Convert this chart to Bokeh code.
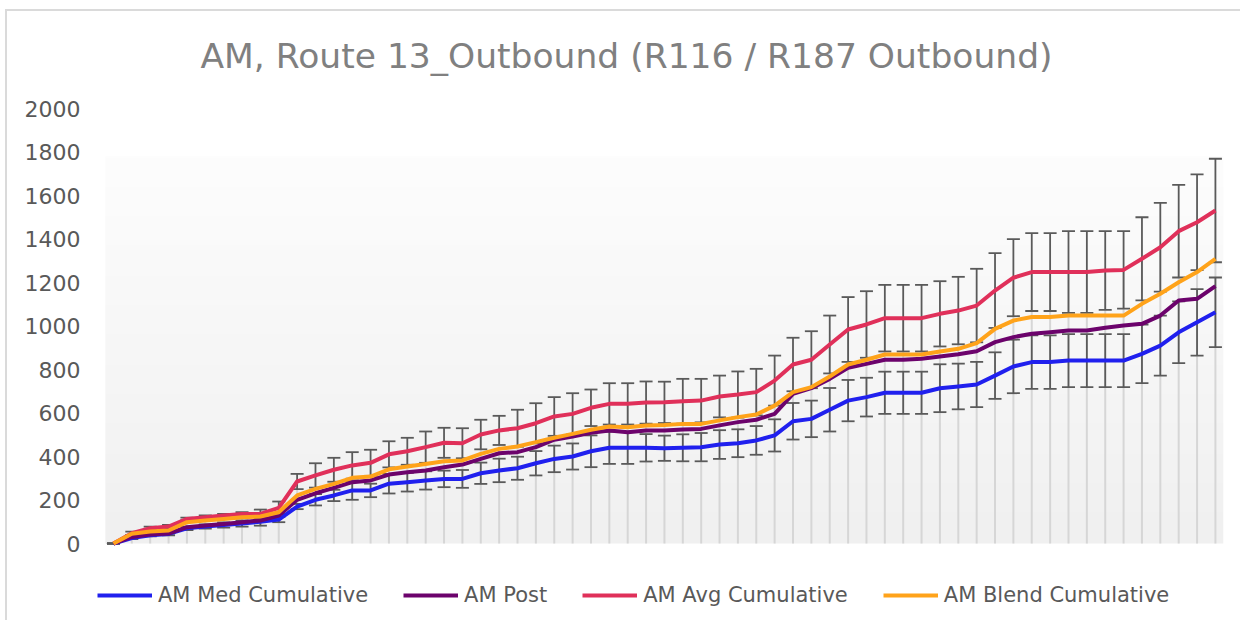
import numpy as np
from bokeh.plotting import figure
from bokeh.models import (ColumnDataSource, Range1d, Whisker, TeeHead, Legend,
                          LegendItem, FixedTicker)
from bokeh.embed import file_html
from bokeh.resources import INLINE

# ---------------- data ----------------
stops = list(range(1, 62))  # 61 stop categories (no labels shown on the axis)

med_cum = [0, 25, 38, 44, 70, 78, 85, 92, 100, 110,
           170, 201, 221, 244, 244, 275, 282, 290, 297, 297,
           323, 336, 346, 369, 389, 400, 424, 440, 440, 440,
           438, 440, 443, 455, 461, 474, 497, 562, 573, 615,
           657, 673, 693, 693, 693, 714, 722, 731, 772, 814,
           834, 834, 841, 841, 841, 841, 872, 910, 971, 1017, 1063]

am_post = [0, 30, 41, 46, 75, 83, 90, 98, 106, 129,
           201, 231, 256, 282, 290, 317, 328, 336, 351, 363,
           389, 415, 420, 443, 477, 492, 509, 520, 512, 520,
           520, 524, 527, 543, 558, 569, 596, 688, 714, 757,
           808, 826, 845, 845, 849, 860, 870, 884, 926, 949,
           964, 971, 979, 979, 992, 1002, 1010, 1048, 1117, 1125, 1183]

avg_cum = [0, 47, 70, 78, 113, 121, 129, 136, 136, 164,
           285, 313, 339, 359, 371, 410, 424, 443, 463, 461,
           501, 520, 530, 553, 584, 596, 624, 642, 642, 648,
           649, 654, 657, 676, 685, 696, 749, 823, 845, 915,
           984, 1007, 1036, 1036, 1036, 1056, 1071, 1094, 1163, 1222,
           1248, 1248, 1248, 1248, 1255, 1258, 1309, 1362, 1436, 1477, 1531]

blend_cum = [0, 45, 55, 60, 98, 106, 113, 121, 124, 144,
             221, 251, 274, 302, 308, 341, 354, 366, 378, 382,
             412, 435, 446, 466, 486, 504, 523, 538, 535, 543,
             545, 550, 550, 566, 581, 593, 634, 696, 719, 768,
             823, 845, 869, 869, 869, 883, 895, 921, 987, 1025,
             1041, 1041, 1048, 1048, 1048, 1048, 1102, 1148, 1201, 1248, 1309]

avg_err = [0, 8, 8, 8, 6, 8, 7, 8, 20, 29,
           35, 56, 55, 61, 60, 60, 62, 72, 69, 69,
           68, 67, 85, 92, 89, 95, 84, 95, 95, 97,
           95, 103, 100, 96, 106, 107, 115, 123, 131, 133,
           149, 153, 153, 153, 153, 150, 155, 169, 172, 177,
           179, 179, 188, 188, 181, 178, 191, 204, 213, 220, 238]

med_err = [0, 5, 5, 6, 8, 10, 12, 14, 18, 12,
           12, 26, 26, 43, 31, 45, 43, 42, 38, 41,
           49, 54, 53, 56, 61, 60, 73, 74, 74, 63,
           58, 62, 65, 66, 64, 66, 74, 84, 84, 100,
           95, 89, 97, 97, 97, 110, 105, 104, 107, 123,
           123, 123, 122, 122, 122, 122, 135, 138, 142, 153, 160]

y_ticks = [0, 200, 400, 600, 800, 1000, 1200, 1400, 1600, 1800, 2000]

series_names = ["AM Med Cumulative", "AM Post", "AM Avg Cumulative", "AM Blend Cumulative"]
series_colors = ["#2020ee", "#6c036c", "#e0305a", "#ffa31a"]

FONT = "DejaVu Sans"

# ---------------- build ----------------
x = list(range(len(stops)))
src = ColumnDataSource(dict(
    x=x, med=med_cum, post=am_post, avg=avg_cum, blend=blend_cum,
    avg_up=[a + e for a, e in zip(avg_cum, avg_err)],
    avg_lo=[a - e for a, e in zip(avg_cum, avg_err)],
    med_up=[m + e for m, e in zip(med_cum, med_err)],
    med_lo=[m - e for m, e in zip(med_cum, med_err)],
    top=[max(v) for v in zip(med_cum, am_post, avg_cum, blend_cum)],
    zero=[0] * len(x),
))

# frame spans the legend strip too, so the legend is drawn inside it
p = figure(width=1240, height=620, output_backend="svg", toolbar_location=None,
           x_range=Range1d(-1.25, len(x) - 1 + 0.44), y_range=Range1d(-354, 2000),
           min_border_left=90, min_border_right=17, min_border_top=100,
           min_border_bottom=0)
p.outline_line_color = None
p.background_fill_color = "white"
p.border_fill_alpha = 0
p.grid.visible = False
p.xaxis.visible = False
# thin light chart-area border (top and left edges only), drawn as an inline svg
_svg = ("data:image/svg+xml;utf8,<svg xmlns='http://www.w3.org/2000/svg' width='1240' height='620'>"
        "<path d='M6 620 V10 H1240' stroke='%23dadada' stroke-width='2' fill='none'/></svg>")
p.styles = {
    "background": f'white url("{_svg}") no-repeat 0 0 / 1240px 620px',
}

# title
p.title.text = "AM, Route 13_Outbound (R116 / R187 Outbound)"
p.title.text_font = FONT
p.title.text_font_size = "34.5px"
p.title.text_font_style = "normal"
p.title.text_color = "#808080"
p.title.align = "left"
p.title.offset = 110
p.title.standoff = 66

# y axis
ya = p.yaxis[0]
ya.ticker = FixedTicker(ticks=y_ticks)
ya.axis_line_color = None
ya.major_tick_line_color = None
ya.minor_tick_line_color = None
ya.major_tick_out = 0
ya.major_tick_in = 0
ya.major_label_standoff = 10
ya.major_label_text_font = FONT
ya.major_label_text_font_size = "22px"
ya.major_label_text_color = "#595959"

# gradient plot-area fill
n = 200
img = np.empty((n, 1), dtype=np.uint32)
view = img.view(dtype=np.uint8).reshape((n, 1, 4))
shade = np.linspace(0xf0, 0xfd, n).astype(np.uint8)
view[:, 0, 0] = shade
view[:, 0, 1] = shade
view[:, 0, 2] = shade
view[:, 0, 3] = 255
r_img = p.image_rgba(image=[img], x=-0.44, y=0, dw=len(x) - 1 + 0.88, dh=1780)
r_img.level = "image"

# drop lines
r_drop = p.segment(x0="x", y0="zero", x1="x", y1="top", source=src,
                   line_color="#d6d6d6", line_width=2)
r_drop.level = "image"

# error bars
for up, lo in (("avg_up", "avg_lo"), ("med_up", "med_lo")):
    w = Whisker(base="x", upper=up, lower=lo, source=src, dimension="height",
                line_color="#5a5a5a", line_width=1.8,
                upper_head=TeeHead(size=13, line_color="#5a5a5a", line_width=1.8),
                lower_head=TeeHead(size=13, line_color="#5a5a5a", line_width=1.8))
    w.level = "underlay"
    p.add_layout(w)

# lines
items = []
for col, name, color in zip(["med", "post", "avg", "blend"], series_names, series_colors):
    r = p.line("x", col, source=src, line_color=color, line_width=4, line_join="round")
    items.append(LegendItem(label=name, renderers=[r]))

legend = Legend(items=items, orientation="horizontal", location=(7, 11),
                glyph_width=55, glyph_height=28, label_height=28,
                label_standoff=6, spacing=35, padding=0, margin=0,
                border_line_color=None, background_fill_alpha=0,
                label_text_font=FONT, label_text_font_size="21px",
                label_text_color="#595959")
p.add_layout(legend, "center")

open("out.html", "w").write(file_html(p, INLINE))
